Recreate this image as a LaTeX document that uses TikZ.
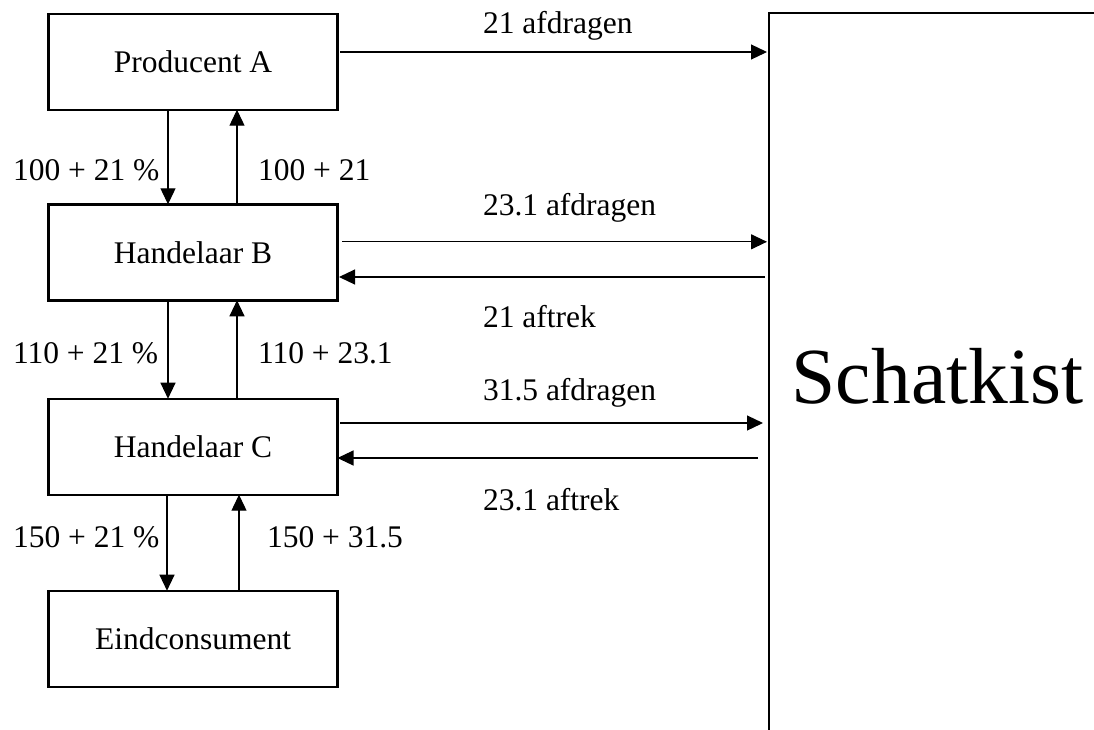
\documentclass[tikz,border=0pt]{standalone}
\usepackage{fontspec}
\setmainfont{Liberation Serif}
\usetikzlibrary{arrows.meta,calc}
\begin{document}
\begin{tikzpicture}[x=1pt,y=-1pt,
  party/.style={draw, line width=2.4pt, outer sep=0pt, inner sep=0pt,
    minimum width=289pt, minimum height=96pt,
    font=\fontsize{31.5}{36}\selectfont},
  flow/.style={line width=1.2pt, -{Triangle[length=16pt,width=15pt]}},
  amount/.style={font=\fontsize{31.5}{36}\selectfont, inner sep=0pt,
    outer sep=0pt, anchor=base west},
]
\clip (0,0) rectangle (1094,729);

% chain of parties
\node[party] (A) at (193,61.7)  {\raisebox{-2pt}{Producent A}};
\node[party] (B) at (193,252.3) {Handelaar B};
\node[party] (C) at (193,446.7) {Handelaar C};
\node[party] (E) at (193,638.7) {Eindconsument};

% treasury, running off the page to the right and bottom
\node[draw, line width=2.4pt, outer sep=0pt, inner sep=0pt,
  minimum width=400pt, minimum height=800pt, anchor=north west]
  (sk) at (769,13) {};
\node[anchor=base, inner sep=0pt, font=\fontsize{79.5}{90}\selectfont]
  (skl) at (937.5,403) {Schatkist};

% goods and payments between the parties
\draw[flow] ([xshift=-25pt]A.south) -- ([xshift=-25pt]B.north);
\draw[flow] ([xshift=44pt]B.north) -- ([xshift=44pt]A.south);
\draw[flow] ([xshift=-25pt]B.south) -- ([xshift=-25pt]C.north);
\draw[flow] ([xshift=44pt]C.north) -- ([xshift=44pt]B.south);
\draw[flow] ([xshift=-26pt]C.south) -- ([xshift=-26pt]E.north);
\draw[flow] ([xshift=46pt]E.north) -- ([xshift=46pt]C.south);

% VAT to and from the treasury
\coordinate (a1) at ([shift={(2.5pt,9.7pt)}]A.east);
\draw[flow, shorten >=2pt] (a1) -- (a1 -| sk.west);
\coordinate (b1) at ([shift={(4.5pt,10.5pt)}]B.east);
\draw[flow, shorten >=2pt] (b1) -- (b1 -| sk.west);
\coordinate (b2) at ([shift={(1.5pt,-24.7pt)}]B.east);
\draw[flow] ($(b2 -| sk.west)+(-4pt,0)$) -- (b2);
\coordinate (c1) at ([shift={(2.5pt,23.7pt)}]C.east);
\draw[flow, shorten >=6pt] (c1) -- (c1 -| sk.west);
\coordinate (c2) at ([shift={(0pt,-11.3pt)}]C.east);
\draw[flow] ($(c2 -| sk.west)+(-11pt,0)$) -- (c2);

% amounts
\node[amount] (l1) at (483,33)  {21 afdragen};
\node[amount] (l2) at (483,215) {23.1 afdragen};
\node[amount] (l3) at (483,327) {21 aftrek};
\node[amount] (l4) at (483,400) {31.5 afdragen};
\node[amount] (l5) at (483,510) {23.1 aftrek};

\node[amount] (v1) at (13,180)  {100 + 21 \%};
\node[amount] (v2) at (258,180) {100 + 21};
\node[amount] (v3) at (13,363)  {110 + 21 \%};
\node[amount] (v4) at (258,363) {110 + 23.1};
\node[amount] (v5) at (13,547)  {150 + 21 \%};
\node[amount] (v6) at (267,547) {150 + 31.5};
\end{tikzpicture}
\end{document}
